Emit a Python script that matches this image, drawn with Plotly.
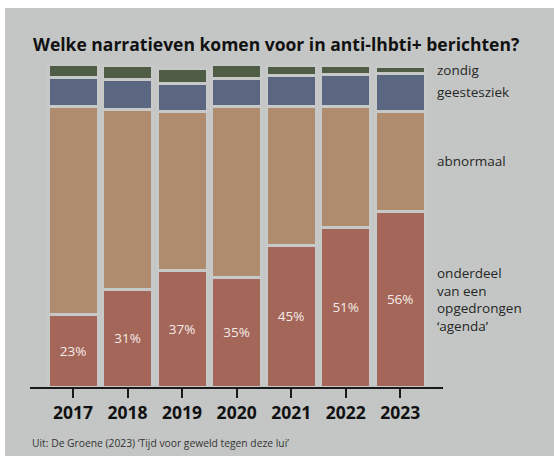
import plotly.graph_objects as go

years = ["2017", "2018", "2019", "2020", "2021", "2022", "2023"]
agenda = [23, 31, 37, 35, 45, 51, 56]
abnormaal = [66.6, 57.5, 50.7, 54.6, 44.4, 38.6, 31.9]
geestesziek = [9.1, 9.7, 9.1, 8.8, 10.0, 10.2, 12.2]
zondig = [4.0, 4.3, 4.8, 4.3, 3.0, 2.7, 2.2]

series_names = ["onderdeel<br>van een<br>opgedrongen<br>‘agenda’", "abnormaal", "geestesziek", "zondig"]
series_values = [agenda, abnormaal, geestesziek, zondig]
colors = ["#a5665a", "#b08c6f", "#5b6680", "#4f5d47"]

W, H = 554, 456
L, R, T, B = 30, 111, 64, 69
BG = "#c4c6c5"
FONT = "Open Sans"

fig = go.Figure()
for name, vals, col in zip(series_names, series_values, colors):
    is_agenda = vals is agenda
    fig.add_trace(go.Bar(
        x=years, y=vals, name=name,
        marker=dict(color=col, line=dict(color="#c7c9c8", width=3)),
        text=[f"{v}%" for v in vals] if is_agenda else None,
        textposition="inside" if is_agenda else "none",
        insidetextanchor="middle",
        textangle=0,
        textfont=dict(family=FONT, size=13.5, color="#f3ebe7"),
        hoverinfo="x+y",
    ))

pw = W - L - R
ph = H - T - B

def px_x(p):
    return (p - L) / pw

def px_y(p):
    return (H - B - p) / ph

annotations = []
# Labels next to the last column, centred on its segments
cum = 0
last = len(years) - 1
for name, vals in zip(series_names, series_values):
    v = vals[last]
    annotations.append(dict(
        x=last, y=cum + v / 2, xref="x", yref="y", text=name,
        xanchor="left", yanchor="middle", align="left", xshift=35, showarrow=False,
        font=dict(family=FONT, size=13.5, color="#262626"),
    ))
    cum += v

annotations.append(dict(
    x=px_x(31), y=px_y(44), xref="paper", yref="paper",
    text="<b>Welke narratieven komen voor in anti-lhbti+ berichten?</b>",
    xanchor="left", yanchor="middle", showarrow=False,
    font=dict(family=FONT, size=17.5, color="#111111"),
))
annotations.append(dict(
    x=px_x(30), y=px_y(443), xref="paper", yref="paper",
    text="Uit: De Groene (2023) ‘Tijd voor geweld tegen deze lui’",
    xanchor="left", yanchor="middle", showarrow=False,
    font=dict(family=FONT, size=10.3, color="#333333"),
))

shapes = [
    dict(type="rect", xref="paper", yref="paper", x0=px_x(0), x1=px_x(W), y0=px_y(8), y1=px_y(0),
         fillcolor="white", line=dict(width=0), layer="below"),
    dict(type="rect", xref="paper", yref="paper", x0=px_x(0), x1=px_x(5), y0=px_y(H), y1=px_y(0),
         fillcolor="white", line=dict(width=0), layer="below"),
]

fig.update_layout(
    width=W, height=H,
    margin=dict(l=L, r=R, t=T, b=B, pad=0),
    barmode="stack", bargap=0.085,
    paper_bgcolor=BG, plot_bgcolor=BG,
    showlegend=False,
    annotations=annotations, shapes=shapes,
    xaxis=dict(
        type="category", range=[-0.79, 6.785],
        showline=True, linecolor="#1a1a1a", linewidth=1.5,
        ticks="outside", ticklen=9, tickwidth=1.5, tickcolor="#1a1a1a",
        tickfont=dict(family=FONT, size=17.5, color="#111111", weight="bold"),
        showgrid=False, zeroline=False, fixedrange=True,
    ),
    yaxis=dict(range=[0, 103], visible=False, fixedrange=True),
    font=dict(family=FONT),
)

fig.write_html(
    "out.html",
    config={"displayModeBar": False},
    post_script="document.body.style.margin='0';document.body.style.padding='0';",
)
